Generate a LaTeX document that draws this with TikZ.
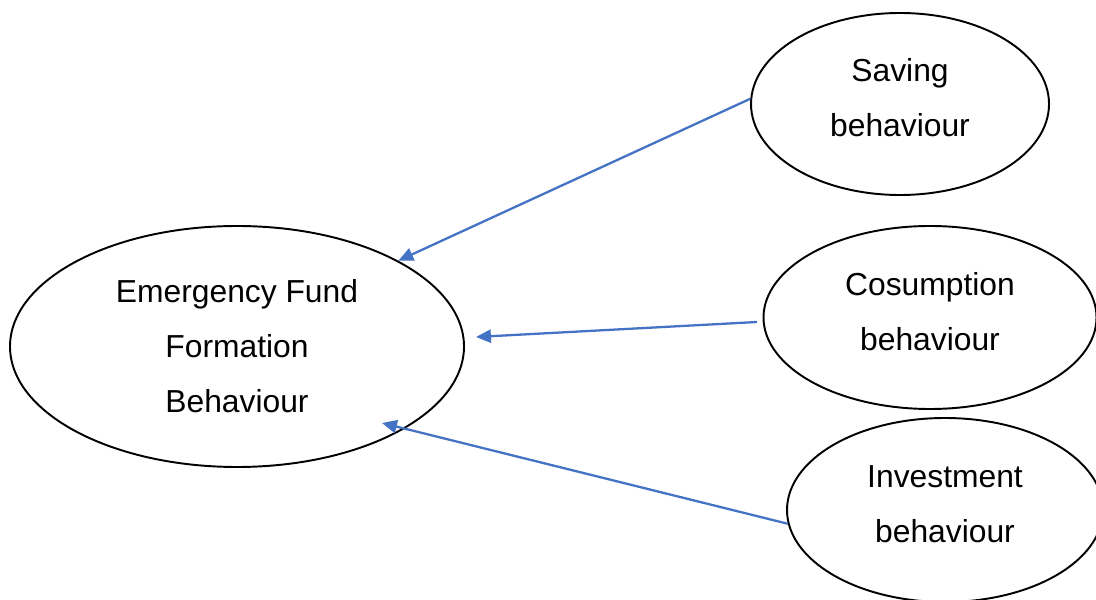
\documentclass[tikz,border=0pt]{standalone}
\usepackage{fontspec}
\setmainfont{Liberation Sans}
\usepackage{tikz}
\usetikzlibrary{positioning,shapes.geometric,arrows.meta}
\definecolor{arrowblue}{HTML}{4472C4}

\begin{document}
\begin{tikzpicture}[
		bubble/.style={ellipse, draw, line width=1.1pt, inner sep=0pt, align=center,
			font=\fontsize{18.1}{31.3}\selectfont},
		link/.style={arrowblue, line width=1.3pt, -{Triangle[length=8.5pt,width=7.5pt]}}
	]
		\useasboundingbox (0,0) rectangle (21.92,11.98);
		\clip (0,0) rectangle (21.92,11.98);
		
		%Main ellipse (left)
		\node[bubble, minimum width=9.08cm, minimum height=4.82cm] (efb) at (4.74,5.05)
			{Emergency Fund\\Formation\\Behaviour};
		
		%Factors (right)
		\node[bubble, minimum width=5.96cm, minimum height=3.64cm, text depth=7pt] (sav) at (18.00,9.90)
			{Saving\\behaviour};
		\node[bubble, minimum width=6.66cm, minimum height=3.66cm, text depth=7pt] (cons) at (18.60,5.63)
			{Cosumption\\behaviour};
		\node[bubble, minimum width=6.32cm, minimum height=3.68cm, text depth=7pt] (inv) at (18.90,1.78)
			{Investment\\behaviour};
		
		%arrow ends
		\coordinate (consTail) at (15.14,5.54);
		\coordinate (consTip) at (9.52,5.24);
		\coordinate (invTip) at (7.64,3.52);
		
		%Arrows
		\draw[link] (sav.178) -- (efb.28);
		\draw[link] (consTail) -- (consTip);
		\draw[link] (inv.185) -- (invTip);
	\end{tikzpicture}
\end{document}
